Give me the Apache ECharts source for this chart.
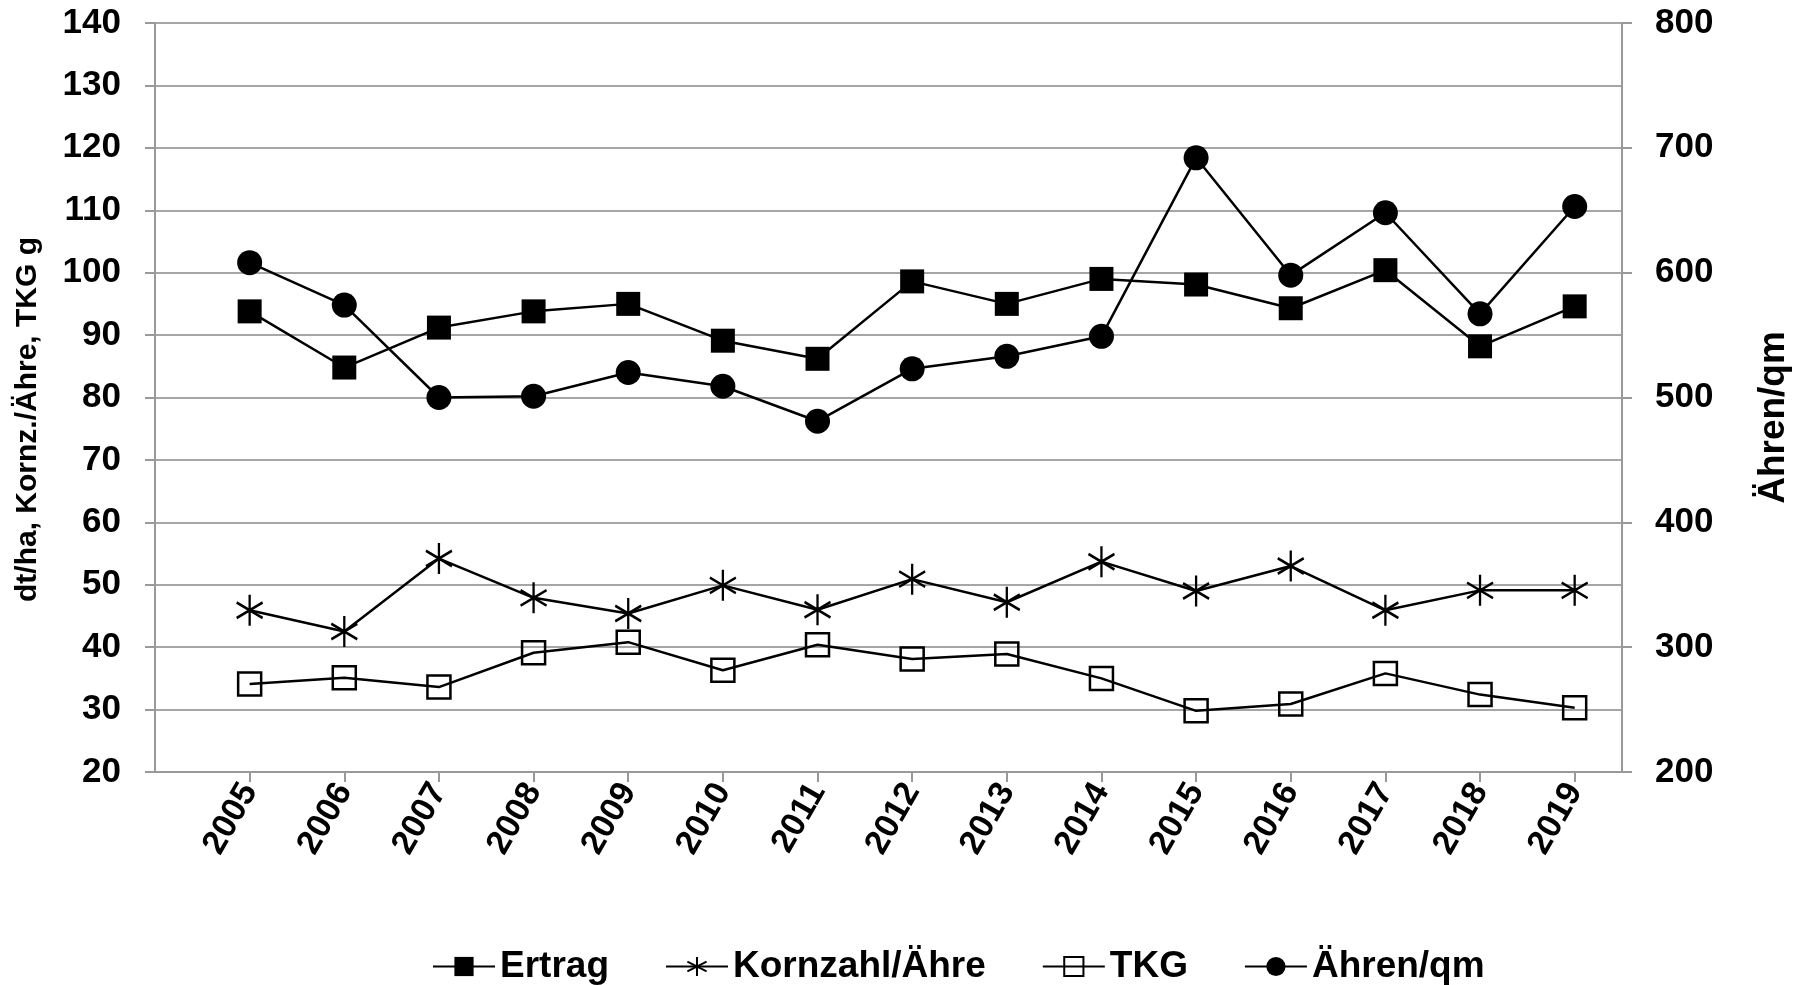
<!DOCTYPE html>
<html>
<head>
<meta charset="utf-8">
<script src="https://cdn.jsdelivr.net/npm/echarts@6/dist/echarts.min.js"></script>
<style>
html,body{margin:0;padding:0;background:#fff;}
#c{width:1798px;height:985px;}
</style>
</head>
<body>
<div id="c"></div>
<script>
const years = [2005,2006,2007,2008,2009,2010,2011,2012,2013,2014,2015,2016,2017,2018,2019];
const ertrag = [93.8,84.8,91.2,93.8,95.0,89.1,86.2,98.6,95.0,99.0,98.1,94.3,100.4,88.2,94.6];
const kornzahl = [45.9,42.5,54.2,47.9,45.4,49.9,46.0,50.9,47.2,53.7,49.0,53.0,45.9,49.1,49.1];
const tkg = [34.1,35.1,33.6,39.1,40.8,36.3,40.4,38.1,38.9,35.0,29.8,30.9,35.8,32.4,30.3];
const aehren = [608,574,500,501,520,509,481,523,533,549,692,598,648,567,653];
const leftTicks = {min:20, max:140, interval:10};
const rightTicks = {min:200, max:800, interval:100};
const xRange = {min:2004, max:2019.5, interval:1};

const pairs = arr => arr.map((v,i)=>[years[i], v]);
const font = 'Arial, "Liberation Sans", sans-serif';
const gridGray = '#a6a6a6';
const asterisk = 'path://M0,-10L0,10M-8.66,-5L8.66,5M-8.66,5L8.66,-5';

const chart = echarts.init(document.getElementById('c'));
chart.setOption({
  animation:false,
  backgroundColor:'#fff',
  textStyle:{fontFamily:font, fontWeight:'bold', color:'#000'},
  grid:{left:155, right:176, top:23, bottom:213, containLabel:false, outerBoundsMode:'none'},
  legend:{
    left:427, top:943, itemWidth:62, itemHeight:24, itemGap:56,
    textStyle:{fontFamily:font, fontWeight:'bold', fontSize:37, color:'#000'},
    data:['Ertrag','Kornzahl/Ähre','TKG','Ähren/qm']
  },
  xAxis:{
    type:'value', min:xRange.min, max:xRange.max, interval:xRange.interval,
    splitLine:{show:false},
    axisLine:{lineStyle:{color:'#999', width:2}},
    axisTick:{show:true, length:10, lineStyle:{color:'#999', width:2}},
    axisLabel:{
      rotate:60, margin:14, fontSize:34, fontWeight:'bold', color:'#000', fontFamily:font,
      showMinLabel:false, showMaxLabel:false,
      formatter: v => (Number.isInteger(v) && v>=years[0] && v<=years[years.length-1]) ? String(v) : ''
    }
  },
  yAxis:[{
    type:'value', min:leftTicks.min, max:leftTicks.max, interval:leftTicks.interval,
    name:'dt/ha, Kornz./Ähre, TKG g', nameLocation:'middle', nameRotate:90, nameGap:112,
    nameTextStyle:{fontSize:30, fontWeight:'bold', color:'#000', fontFamily:font, padding:[0,44,0,0]},
    axisLine:{show:true, lineStyle:{color:'#999', width:2}},
    axisTick:{show:true, length:10, lineStyle:{color:'#999', width:2}},
    axisLabel:{margin:34, fontSize:35, fontWeight:'bold', color:'#000', fontFamily:font},
    splitLine:{show:true, lineStyle:{color:gridGray, width:2}}
  },{
    type:'value', position:'right', min:rightTicks.min, max:rightTicks.max, interval:rightTicks.interval,
    name:'Ähren/qm', nameLocation:'middle', nameRotate:90, nameGap:133,
    nameTextStyle:{fontSize:37, fontWeight:'bold', color:'#000', fontFamily:font, padding:[0,40,0,0]},
    axisLine:{show:true, lineStyle:{color:'#999', width:2}},
    axisTick:{show:true, length:10, lineStyle:{color:'#999', width:2}},
    axisLabel:{margin:33, fontSize:35, fontWeight:'bold', color:'#000', fontFamily:font},
    splitLine:{show:false}
  }],
  series:[
    {name:'Ertrag', type:'line', yAxisIndex:0, data:pairs(ertrag), symbol:'rect', symbolSize:24,
     lineStyle:{color:'#000', width:2.5}, itemStyle:{color:'#000'}},
    {name:'Kornzahl/Ähre', type:'line', yAxisIndex:0, data:pairs(kornzahl), symbol:asterisk, symbolSize:[26,31],
     lineStyle:{color:'#000', width:2.5}, itemStyle:{color:'transparent', borderColor:'#000', borderWidth:2.5}},
    {name:'TKG', type:'line', yAxisIndex:0, data:pairs(tkg), symbol:'rect', symbolSize:23,
     lineStyle:{color:'#000', width:2.5}, itemStyle:{color:'transparent', borderColor:'#000', borderWidth:2.5}},
    {name:'Ähren/qm', type:'line', yAxisIndex:1, data:pairs(aehren), symbol:'circle', symbolSize:25,
     lineStyle:{color:'#000', width:2.5}, itemStyle:{color:'#000'}}
  ]
});
</script>
</body>
</html>
